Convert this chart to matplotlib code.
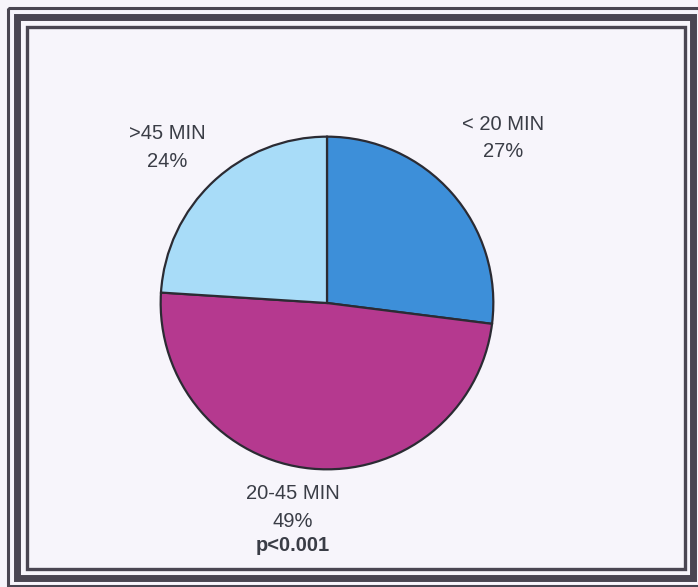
import matplotlib.pyplot as plt
from matplotlib.patches import Rectangle

plt.rcParams['font.family'] = ['Liberation Sans', 'DejaVu Sans']

# Time groups and their share of patients
groups = ["< 20 MIN", "20-45 MIN", ">45 MIN"]
shares = [27, 49, 24]
colors = ["#3d8fd9", "#b5398f", "#a8dcf8"]
p_text = "p<0.001"

W, H = 698, 587
fig = plt.figure(figsize=(W / 100, H / 100), dpi=100)
fig.patch.set_facecolor("#f7f5fb")

# full-size axes in pixel units for the frame and labels
bg = fig.add_axes([0, 0, 1, 1])
bg.set_xlim(0, W)
bg.set_ylim(H, 0)
bg.axis("off")

frame_col = "#4a4652"
bg.add_patch(Rectangle((7.5, 7.5), 700, 578, fill=False, lw=2.2, ec=frame_col))
bg.add_patch(Rectangle((16.5, 16.5), 676, 561.5, fill=False, lw=5.0, ec=frame_col))
bg.add_patch(Rectangle((27, 27), 658, 542, fill=False, lw=2.4, ec=frame_col))

# pie, centred at (327, 303) px with radius 168 px
cx, cy, r = 327, 303, 168
ax = fig.add_axes([(cx - r) / W, (H - cy - r) / H, 2 * r / W, 2 * r / H])
ax.pie(shares, colors=colors, startangle=90, counterclock=False, radius=1,
       wedgeprops=dict(edgecolor="#2b2b33", linewidth=1.6))
ax.set_xlim(-1.01, 1.01)
ax.set_ylim(-1.01, 1.01)
ax.set_aspect("equal")
ax.axis("off")

txt = dict(ha="center", va="baseline", fontsize=14.5, color="#3a3d46")
label_pos = {"< 20 MIN": (503, 130, 157), "20-45 MIN": (293, 499, 527), ">45 MIN": (167, 139, 167)}
for g, s in zip(groups, shares):
    x, y1, y2 = label_pos[g]
    bg.text(x, y1, g, **txt)
    bg.text(x, y2, f"{s}%", **txt)

bg.text(293, 551, p_text, fontweight="bold", **txt)

fig.savefig("out.png", dpi=100, facecolor=fig.get_facecolor())
